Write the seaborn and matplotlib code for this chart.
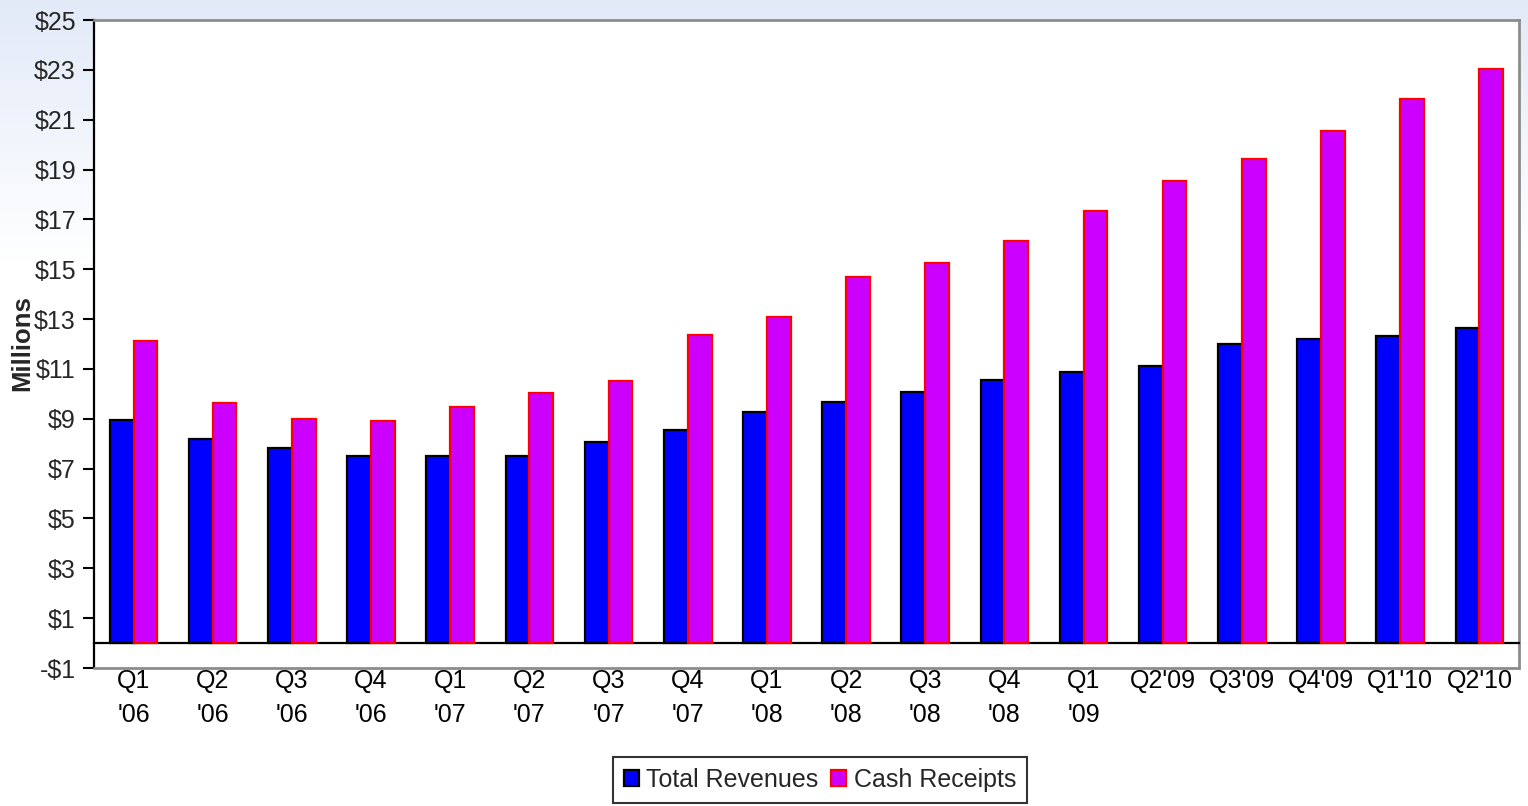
import numpy as np
import pandas as pd
import matplotlib
matplotlib.use("Agg")
import matplotlib.pyplot as plt
import seaborn as sns
from matplotlib.patches import Patch

quarters = ["Q1\n'06", "Q2\n'06", "Q3\n'06", "Q4\n'06", "Q1\n'07", "Q2\n'07", "Q3\n'07", "Q4\n'07",
            "Q1\n'08", "Q2\n'08", "Q3\n'08", "Q4\n'08", "Q1\n'09", "Q2'09", "Q3'09", "Q4'09", "Q1'10", "Q2'10"]
total_revenues = [8.95, 8.19, 7.83, 7.50, 7.50, 7.50, 8.07, 8.55, 9.27, 9.67, 10.07, 10.55, 10.87,
                  11.12, 12.00, 12.20, 12.32, 12.64]
cash_receipts = [12.12, 9.63, 8.99, 8.91, 9.47, 10.03, 10.51, 12.36, 13.08, 14.69, 15.25, 16.13, 17.34,
                 18.54, 19.42, 20.55, 21.83, 23.03]
series_names = ["Total Revenues", "Cash Receipts"]
y_ticks = list(range(-1, 26, 2))

df = pd.DataFrame({
    "quarter": quarters * 2,
    "series": [series_names[0]] * len(quarters) + [series_names[1]] * len(quarters),
    "value": total_revenues + cash_receipts,
})

sns.set_theme(style="white")
plt.rcParams["font.family"] = ["Liberation Sans", "DejaVu Sans"]

fig = plt.figure(figsize=(15.28, 8.06), dpi=100)

# background gradient
bg = fig.add_axes([0, 0, 1, 1], zorder=-10)
h = 806
grad = np.ones((h, 2, 3))
top = np.array([226, 234, 248]) / 255.0
for i in range(h):
    t = min(i / 260.0, 1.0)
    grad[i, :, :] = top * (1 - t) + np.array([1, 1, 1]) * t
bg.imshow(grad, aspect="auto", extent=[0, 1, 0, 1], origin="upper")
bg.axis("off")

ax = fig.add_axes([94 / 1528, 1 - 668 / 806, (1519 - 94) / 1528, (668 - 20) / 806])
ax.set_facecolor("white")

fills = {"Total Revenues": "#0000ff", "Cash Receipts": "#cc00ff"}
edges = {"Total Revenues": "#000000", "Cash Receipts": "#ff0000"}

sns.barplot(data=df, x="quarter", y="value", hue="series", palette=fills, width=0.6,
            ax=ax, legend=False, saturation=1, zorder=3)
for cont, name in zip(ax.containers, series_names):
    for bar in cont:
        bar.set_edgecolor(edges[name])
        bar.set_linewidth(1.6)

ax.set_ylim(-1, 25)
ax.set_xlim(-0.5, len(quarters) - 0.5)
ax.set_yticks(y_ticks)
ax.set_yticklabels([f"-${abs(v)}" if v < 0 else f"${v}" for v in y_ticks], fontsize=18)

# x axis at zero
ax.spines["bottom"].set_position(("data", 0))
ax.spines["bottom"].set_color("black")
ax.spines["bottom"].set_linewidth(1.6)
ax.spines["left"].set_color("black")
ax.spines["left"].set_linewidth(1.6)
for s in ["top", "right"]:
    ax.spines[s].set_color("#8c8c8c")
    ax.spines[s].set_linewidth(2)
ax.axhline(-1, color="#8c8c8c", lw=2, clip_on=False, zorder=5)

ax.set_xticks(range(len(quarters)))
ax.set_xticklabels(quarters, fontsize=18)
for t in ax.get_xticklabels():
    t.set_linespacing(1.5)
ax.set_xticks(np.arange(-0.5, len(quarters), 1.0), minor=True)
ax.tick_params(axis="x", which="major", length=0, pad=19, colors="black")
ax.tick_params(axis="x", which="minor", length=9, width=1.5, direction="out", color="black")
ax.tick_params(axis="y", which="major", length=8, width=1.5, direction="out", color="black", left=True, pad=5)

ax.set_xlabel("")
ax.set_ylabel("Millions", fontsize=18.5, fontweight="bold")
ax.yaxis.set_label_coords((34 - 94) / 1425, (668 - 343) / 648)
ax.grid(False)

handles = [Patch(facecolor=fills[n], edgecolor=edges[n], linewidth=1.6, label=n) for n in series_names]
leg = fig.legend(handles=handles, loc="lower center", bbox_to_anchor=(820 / 1528, -0.012), ncol=2,
                 frameon=True, fancybox=False, fontsize=18, handlelength=0.6, handleheight=0.6,
                 handletextpad=0.3, columnspacing=0.5, borderpad=0.45)
leg.get_frame().set_edgecolor("black")
leg.get_frame().set_linewidth(1.5)

fig.savefig("out.png", dpi=100)
